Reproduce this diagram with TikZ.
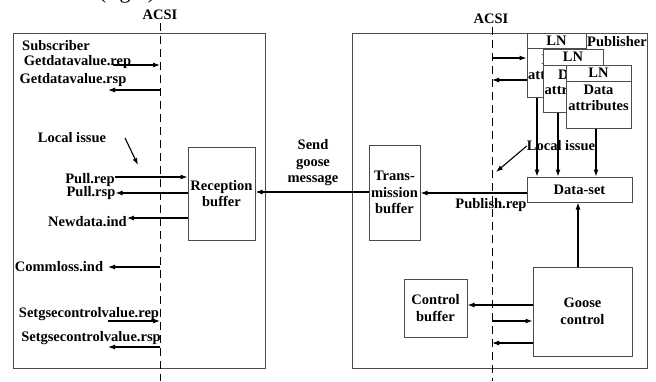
\documentclass[tikz,border=0pt]{standalone}
\usepackage{fontspec}
\setmainfont{Liberation Serif}
\usetikzlibrary{arrows.meta}
\begin{document}
\begin{tikzpicture}[x=1pt,y=-1pt,
  every node/.style={font=\fontsize{14.5}{16.5}\selectfont\bfseries, inner sep=0pt},
  frame/.style={draw=black!70, line width=1pt},
  blk/.style={draw=black!70, line width=1pt, fill=white, align=center},
  lbl/.style={align=center},
  arr/.style={draw=black, line width=1.1pt, -{Latex[length=7pt,width=5pt]}},
  acsi/.style={draw=black, line width=1pt, dash pattern=on 8pt off 5pt}]
\useasboundingbox (0,0) rectangle (656,381);

% heading line, mostly above the page edge
\node[font=\fontsize{22}{24}\selectfont, anchor=base] (cap) at (127,-2) {(right)};

% the two devices
\node[frame, minimum width=252pt, minimum height=335pt] (sub) at (139,200.5) {};
\node[frame, minimum width=295pt, minimum height=335pt] (pub) at (499.5,200.5) {};

% ACSI boundaries
\node (acsiL) at (160,15) {ACSI};
\node (acsiR) at (491,19) {ACSI};
\coordinate (aLtop) at (160,23);
\coordinate (aLbot) at (160,381);
\coordinate (aRtop) at (492,27);
\coordinate (aRbot) at (492,381);
\draw[acsi] (aLtop) -- (aLbot);
\draw[acsi] (aRtop) -- (aRbot);

% ---------- subscriber side ----------
\node[anchor=west] (subname) at (22,46) {Subscriber};
\node (gdrep) at (77.5,62) {Getdatavalue.rep};
\node (gdrsp) at (73,80) {Getdatavalue.rsp};
\coordinate (gdrepA) at (113,65);
\coordinate (gdrepB) at (160,65);
\coordinate (gdrspA) at (160,90);
\coordinate (gdrspB) at (108,90);
\draw[arr] (gdrepA) -- (gdrepB);
\draw[arr] (gdrspA) -- (gdrspB);

\node (liL) at (72,138) {Local issue};
\coordinate (liLA) at (125,138);
\coordinate (liLB) at (138,165);
\draw[arr] (liLA) -- (liLB);

\node[blk, minimum width=67pt, minimum height=93pt] (rb) at (221.5,193.5) {Reception\\buffer};

\node (pullrep) at (90,180) {Pull.rep};
\node (pullrsp) at (91,193) {Pull.rsp};
\node (newdata) at (87.5,222) {Newdata.ind};
\draw[arr] (pullrep.east |- 0,177) -- (rb.west |- 0,177);
\draw[arr] (rb.west |- 0,193) -- (pullrsp.east |- 0,193);
\draw[arr] (rb.west |- 0,218) -- (newdata.east |- 0,218);

\node (comm) at (59,267) {Commloss.ind};
\coordinate (commA) at (160,267);
\coordinate (commB) at (108,267);
\draw[arr] (commA) -- (commB);

\node (sgrep) at (89,314) {Setgsecontrolvalue.rep};
\node (sgrsp) at (91,338) {Setgsecontrolvalue.rsp};
\coordinate (sgrepA) at (108,321);
\coordinate (sgrepB) at (160,321);
\coordinate (sgrspA) at (160,347);
\coordinate (sgrspB) at (108,347);
\draw[arr] (sgrepA) -- (sgrepB);
\draw[arr] (sgrspA) -- (sgrspB);

% ---------- link ----------
\node[lbl] (send) at (313,163) {Send\\goose\\message};
\node[blk, minimum width=51pt, minimum height=95pt] (tb) at (394.5,192.5) {Trans-\\mission\\buffer};
\draw[arr] (tb.west |- 0,192) -- (rb.east |- 0,192);

% ---------- publisher side: stacked logical nodes ----------
\node[blk, minimum width=59pt, minimum height=15pt] (ln1h) at (556.5,40.5) {LN};
\node[blk, minimum width=59pt, minimum height=49pt] (ln1b) at (556.5,72.5) {};
\begin{scope}
  \clip (527,48) rectangle (586,97);
  \node (ln1t1) at (556.5,60) {Data};
  \node[anchor=west] (ln1t2) at (528,75) {attributes};
\end{scope}
\node[blk, minimum width=60pt, minimum height=16pt] (ln2h) at (573,57) {LN};
\node[blk, minimum width=60pt, minimum height=47pt] (ln2b) at (573,88.5) {};
\begin{scope}
  \clip (543,65) rectangle (603,112);
  \node (ln2t1) at (573,75) {Data};
  \node[anchor=west] (ln2t2) at (544.5,90) {attributes};
\end{scope}
\node[blk, minimum width=65pt, minimum height=16pt] (ln3h) at (598.5,73) {LN};
\node[blk, minimum width=65pt, minimum height=47pt] (ln3b) at (598.5,104.5) {};
\node (ln3t1) at (598.5,90) {Data};
\node (ln3t2) at (598.5,106) {attributes};
\node (pubname) at (617,42) {Publisher};

\coordinate (acR1) at (492,58);
\coordinate (acR2) at (492,80);
\draw[arr] (acR1) -- (ln1b.west |- acR1);
\draw[arr] (ln1b.west |- acR2) -- (acR2);

\node[blk, minimum width=105pt, minimum height=25pt] (ds) at (579.5,189.5) {Data-set};
\coordinate (d1) at (537,0);
\coordinate (d2) at (558,0);
\coordinate (d3) at (596,0);
\draw[arr] (ln1b.south -| d1) -- (ds.north -| d1);
\draw[arr] (ln2b.south -| d2) -- (ds.north -| d2);
\draw[arr] (ln3b.south -| d3) -- (ds.north -| d3);

\node (liR) at (561,146) {Local issue};
\coordinate (liRB) at (496,172);
\draw[arr] (liR.west) -- (liRB);

\draw[arr] (ds.west |- 0,193) -- (tb.east |- 0,193);
\node (pubrep) at (491,205) {Publish.rep};

\node[blk, minimum width=99pt, minimum height=89pt] (gc) at (582.5,311.5) {Goose\\control};
\node[blk, minimum width=63pt, minimum height=58pt] (cb) at (435.5,308) {Control\\buffer};
\coordinate (gx) at (578,0);
\draw[arr] (gc.north -| gx) -- (ds.south -| gx);
\draw[arr] (gc.west |- 0,305) -- (cb.east |- 0,305);
\coordinate (gin) at (492,321);
\coordinate (gout) at (492,343);
\draw[arr] (gin) -- (gc.west |- gin);
\draw[arr] (gc.west |- gout) -- (gout);
\end{tikzpicture}
\end{document}
